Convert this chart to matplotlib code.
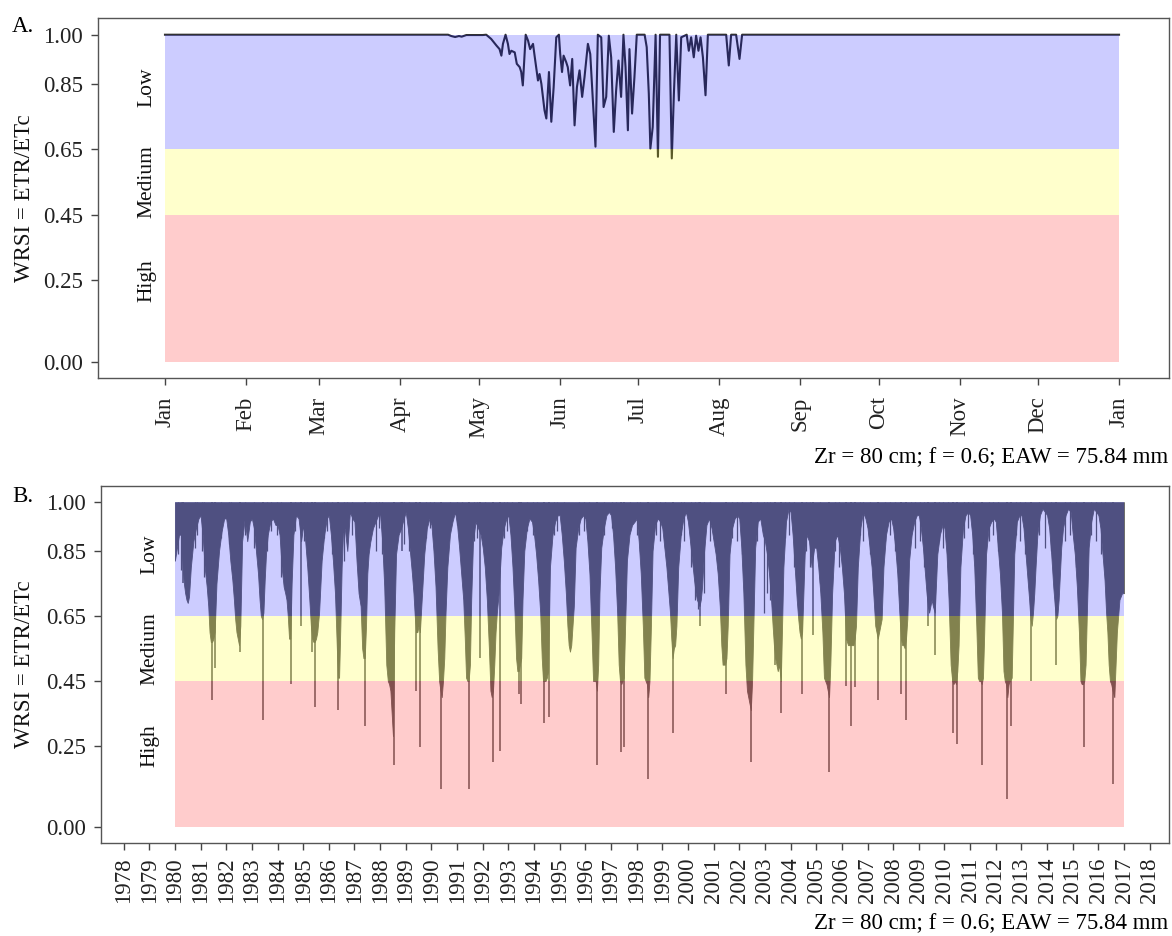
import matplotlib
matplotlib.use("Agg")
import matplotlib.pyplot as plt
import numpy as np

plt.rcParams['font.family'] = ['Liberation Serif', 'DejaVu Serif']

# ---- panel A: one year of daily WRSI (day of year, value) ----
a_doy = [0, 108.3, 109.5, 111.0, 112.5, 113.5, 115.3, 121.6, 122.9,
         124.8, 126.8, 128.0, 128.7, 129.3, 130.3, 131.2, 131.8, 132.5, 133.8,
         134.6, 135.7, 136.3, 136.9, 138.0, 138.9, 139.7, 140.8, 141.4, 142.7,
         143.3, 144.0, 145.2, 145.9, 146.9, 147.8, 148.7, 149.7, 150.7, 151.2,
         151.9, 152.5, 153.5, 154.1, 155.0, 155.8, 156.7, 157.6, 158.6, 159.6,
         160.5, 161.8, 162.7, 163.7, 164.7, 165.6, 166.9, 167.8, 168.8, 169.8,
         170.7, 171.7, 172.6, 173.5, 174.5, 175.4, 176.2, 177.1, 177.7, 178.7,
         179.6, 180.5, 183.5, 184.3, 185.1, 185.7, 186.6, 187.7, 188.6, 189.4,
         193.0, 193.9, 194.7, 195.6, 196.6, 197.5, 199.6, 200.4, 201.3, 202.3,
         203.2, 204.1, 204.9, 205.8, 206.8, 207.7, 214.7, 215.7, 216.6, 218.5,
         219.8, 220.8, 365]
a_wrsi = [1.0, 1.0, 0.996, 0.993, 0.996, 0.994, 0.999, 0.999, 1.0,
          0.987, 0.967, 0.956, 0.936, 0.972, 1.0, 0.972, 0.941, 0.951, 0.946,
          0.911, 0.901, 0.886, 0.845, 1.0, 0.982, 0.956, 0.972, 0.936, 0.860,
          0.880, 0.850, 0.769, 0.744, 0.886, 0.734, 0.840, 0.992, 1.0, 0.941,
          0.886, 0.936, 0.916, 0.901, 0.845, 0.926, 0.723, 0.840, 0.891, 0.810,
          0.870, 0.972, 0.941, 0.799, 0.658, 1.0, 0.992, 0.779, 0.810, 0.997,
          0.931, 0.703, 0.830, 0.921, 0.810, 1.0, 0.901, 0.708, 0.956, 0.759,
          0.870, 1.0, 1.0, 0.962, 0.820, 0.652, 0.718, 1.0, 0.627, 1.0,
          1.0, 0.622, 0.820, 1.0, 0.799, 0.992, 1.0, 0.951, 0.992, 0.931,
          0.997, 0.951, 0.992, 0.931, 0.815, 1.0, 1.0, 0.906, 1.0, 1.0,
          0.926, 1.0, 1.0]

month_names = ['Jan', 'Feb', 'Mar', 'Apr', 'May', 'Jun', 'Jul', 'Aug',
               'Sep', 'Oct', 'Nov', 'Dec', 'Jan']
month_start = [0, 31, 59, 90, 120, 151, 181, 212, 243, 273, 304, 334, 365]

# ---- panel B: 1980-2016, lowest WRSI read at fixed fractions of each year ----
b_years = list(range(1980, 2017))
b_frac = [0.00, 0.08, 0.16, 0.24, 0.30, 0.35, 0.40, 0.45, 0.50, 0.55, 0.62, 0.72, 0.82, 0.92]
b_rows = [
    [0.82, 0.86, 0.90, 0.90, 0.80, 0.75, 0.72, 0.70, 0.69, 0.71, 0.80, 0.88, 0.92, 0.95],  # 1980
    [0.96, 0.90, 0.80, 0.74, 0.68, 0.60, 0.57, 0.57, 0.58, 0.60, 0.75, 0.85, 0.91, 0.95],
    [0.95, 0.90, 0.82, 0.76, 0.70, 0.64, 0.60, 0.58, 0.56, 0.62, 0.88, 0.95, 0.88, 0.94],
    [0.95, 0.92, 0.85, 0.78, 0.70, 0.65, 0.64, 0.66, 0.76, 0.84, 0.90, 0.94, 0.95, 0.93],
    [0.93, 0.90, 0.80, 0.74, 0.72, 0.70, 0.65, 0.58, 0.58, 0.75, 0.90, 0.96, 0.95, 0.88],
    [0.93, 0.88, 0.80, 0.70, 0.62, 0.58, 0.57, 0.57, 0.58, 0.60, 0.66, 0.82, 0.90, 0.95],  # 1985
    [0.96, 0.90, 0.82, 0.72, 0.58, 0.46, 0.46, 0.62, 0.80, 0.90, 0.92, 0.85, 0.97, 0.95],
    [0.94, 0.82, 0.72, 0.68, 0.55, 0.52, 0.52, 0.62, 0.78, 0.84, 0.88, 0.92, 0.94, 0.96],
    [0.96, 0.88, 0.74, 0.50, 0.45, 0.44, 0.42, 0.35, 0.28, 0.60, 0.84, 0.90, 0.92, 0.95],
    [0.97, 0.92, 0.85, 0.78, 0.72, 0.65, 0.60, 0.60, 0.62, 0.60, 0.70, 0.84, 0.92, 0.95],
    [0.93, 0.85, 0.74, 0.55, 0.45, 0.42, 0.40, 0.45, 0.52, 0.66, 0.80, 0.90, 0.94, 0.97],  # 1990
    [0.93, 0.86, 0.78, 0.70, 0.58, 0.46, 0.45, 0.45, 0.50, 0.70, 0.88, 0.94, 0.92, 0.90],
    [0.86, 0.80, 0.70, 0.55, 0.42, 0.40, 0.42, 0.50, 0.60, 0.66, 0.72, 0.86, 0.92, 0.95],
    [0.96, 0.90, 0.80, 0.66, 0.52, 0.48, 0.48, 0.50, 0.52, 0.70, 0.85, 0.92, 0.95, 0.94],
    [0.90, 0.84, 0.76, 0.66, 0.52, 0.45, 0.45, 0.45, 0.46, 0.48, 0.80, 0.90, 0.94, 0.96],
    [0.96, 0.90, 0.82, 0.72, 0.62, 0.56, 0.54, 0.56, 0.62, 0.68, 0.86, 0.92, 0.95, 0.96],  # 1995
    [0.95, 0.88, 0.78, 0.60, 0.45, 0.45, 0.45, 0.42, 0.50, 0.72, 0.86, 0.92, 0.96, 0.97],
    [0.96, 0.90, 0.80, 0.66, 0.50, 0.45, 0.44, 0.45, 0.46, 0.62, 0.82, 0.90, 0.93, 0.94],
    [0.95, 0.88, 0.78, 0.62, 0.46, 0.45, 0.44, 0.40, 0.45, 0.60, 0.85, 0.93, 0.95, 0.94],
    [0.92, 0.86, 0.80, 0.72, 0.66, 0.58, 0.52, 0.55, 0.56, 0.62, 0.80, 0.90, 0.95, 0.97],
    [0.94, 0.88, 0.82, 0.76, 0.72, 0.70, 0.69, 0.68, 0.70, 0.74, 0.84, 0.93, 0.95, 0.92],  # 2000
    [0.88, 0.84, 0.78, 0.68, 0.56, 0.50, 0.50, 0.50, 0.52, 0.62, 0.84, 0.92, 0.95, 0.96],
    [0.95, 0.86, 0.72, 0.50, 0.42, 0.40, 0.38, 0.36, 0.45, 0.62, 0.86, 0.94, 0.95, 0.90],
    [0.88, 0.84, 0.78, 0.70, 0.62, 0.56, 0.52, 0.50, 0.48, 0.50, 0.45, 0.80, 0.94, 0.98],
    [0.97, 0.90, 0.80, 0.70, 0.64, 0.60, 0.58, 0.60, 0.72, 0.84, 0.90, 0.88, 0.80, 0.86],
    [0.86, 0.80, 0.72, 0.60, 0.46, 0.45, 0.44, 0.42, 0.40, 0.50, 0.72, 0.88, 0.90, 0.86],  # 2005
    [0.80, 0.72, 0.58, 0.56, 0.56, 0.56, 0.56, 0.56, 0.58, 0.62, 0.80, 0.92, 0.97, 0.95],
    [0.92, 0.86, 0.80, 0.70, 0.62, 0.60, 0.58, 0.60, 0.62, 0.64, 0.80, 0.90, 0.94, 0.95],
    [0.92, 0.86, 0.78, 0.66, 0.58, 0.56, 0.56, 0.55, 0.58, 0.64, 0.82, 0.90, 0.94, 0.96],
    [0.96, 0.92, 0.86, 0.78, 0.72, 0.68, 0.66, 0.68, 0.70, 0.68, 0.66, 0.84, 0.90, 0.93],
    [0.92, 0.84, 0.70, 0.50, 0.45, 0.44, 0.45, 0.44, 0.48, 0.56, 0.80, 0.92, 0.96, 0.97],  # 2010
    [0.96, 0.90, 0.80, 0.62, 0.46, 0.45, 0.45, 0.44, 0.46, 0.60, 0.84, 0.92, 0.94, 0.95],
    [0.94, 0.86, 0.78, 0.66, 0.48, 0.45, 0.44, 0.40, 0.44, 0.45, 0.46, 0.84, 0.94, 0.96],
    [0.96, 0.92, 0.84, 0.76, 0.70, 0.64, 0.62, 0.66, 0.72, 0.80, 0.90, 0.96, 0.98, 0.97],
    [0.96, 0.92, 0.84, 0.74, 0.68, 0.64, 0.65, 0.70, 0.78, 0.86, 0.92, 0.96, 0.98, 0.97],
    [0.90, 0.84, 0.74, 0.60, 0.45, 0.44, 0.44, 0.45, 0.50, 0.66, 0.86, 0.94, 0.98, 0.97],  # 2015
    [0.96, 0.92, 0.84, 0.76, 0.66, 0.60, 0.50, 0.45, 0.44, 0.42, 0.40, 0.60, 0.70, 0.72],
]
b_end_time = 2017.0
b_end_wrsi = 0.72

# single-day drops below the seasonal envelope (deep ones)
b_spike_time = [1980.30, 1981.43, 1981.57, 1982.52, 1983.44, 1984.53, 1984.90, 1985.35,
                1985.48, 1986.36, 1987.40, 1988.53, 1988.86, 1989.40, 1989.57, 1990.38,
                1991.48, 1991.90, 1992.40, 1992.66, 1993.40, 1993.50, 1994.40, 1994.57,
                1996.45, 1997.40, 1997.50, 1998.45, 1999.40, 2000.47, 2001.48, 2002.44,
                2003.39, 2003.61, 2004.43, 2004.88, 2005.51, 2006.18, 2006.34, 2006.51,
                2007.42, 2008.32, 2008.49, 2009.36, 2009.62, 2010.34, 2010.47, 2011.47,
                2012.45, 2012.61, 2013.39, 2014.36, 2015.43, 2016.57]
b_spike_wrsi = [0.75, 0.39, 0.49, 0.54, 0.33, 0.44, 0.62, 0.54,
                0.37, 0.36, 0.31, 0.19, 0.85, 0.42, 0.245, 0.117,
                0.117, 0.52, 0.20, 0.235, 0.41, 0.38, 0.32, 0.34,
                0.19, 0.23, 0.245, 0.148, 0.29, 0.62, 0.41, 0.20,
                0.50, 0.35, 0.41, 0.59, 0.17, 0.435, 0.31, 0.43,
                0.39, 0.41, 0.33, 0.62, 0.53, 0.29, 0.255, 0.19,
                0.086, 0.31, 0.45, 0.50, 0.245, 0.132]

# shallow drops inside the wet-season (light) stretches
b_minor_time = [1980.12, 1980.22, 1980.77, 1980.87, 1981.06, 1981.13, 1981.78, 1982.10,
                1982.19, 1982.75, 1983.08, 1983.60, 1983.73, 1983.99, 1984.12, 1984.70,
                1985.03, 1985.16, 1985.81, 1985.94, 1986.13, 1986.58, 1986.71, 1986.91,
                1987.62, 1987.82, 1987.95, 1988.08, 1988.79, 1988.92, 1989.12, 1989.77,
                1989.96, 1990.09, 1990.74, 1991.00, 1991.19, 1991.65, 1991.78, 1992.10,
                1992.82, 1992.95, 1993.14, 1993.74, 1993.94, 1994.13, 1994.78, 1994.91,
                1995.17, 1995.74, 1995.94, 1996.13, 1996.73, 1997.05, 1997.18, 1997.75,
                1998.01, 1998.14, 1998.75, 1998.92, 1999.10, 1999.72, 1999.85, 2000.10,
                2000.27, 2000.40, 2000.62, 2000.85, 2001.72, 2001.90, 2002.10, 2002.70,
                2002.95, 2003.10, 2003.20, 2003.80, 2003.95, 2004.15, 2004.62, 2004.75,
                2005.15, 2005.75, 2005.90, 2006.70, 2006.82, 2007.08, 2007.70, 2007.88,
                2008.08, 2008.70, 2008.85, 2009.05, 2009.20, 2009.80, 2009.95, 2010.12,
                2010.75, 2010.90, 2011.10, 2011.72, 2011.90, 2012.10, 2012.80, 2012.95,
                2013.15, 2013.70, 2013.90, 2014.15, 2014.70, 2014.88, 2015.12, 2015.72,
                2015.92, 2016.12, 2016.25]
b_minor_wrsi = [0.84, 0.79, 0.86, 0.90, 0.85, 0.77, 0.89, 0.87,
                0.84, 0.90, 0.86, 0.85, 0.91, 0.90, 0.77, 0.91,
                0.88, 0.84, 0.89, 0.91, 0.84, 0.82, 0.91, 0.90,
                0.88, 0.85, 0.92, 0.84, 0.93, 0.87, 0.85, 0.89,
                0.92, 0.87, 0.92, 0.93, 0.82, 0.88, 0.89, 0.84,
                0.89, 0.91, 0.87, 0.91, 0.90, 0.87, 0.90, 0.91,
                0.87, 0.90, 0.91, 0.85, 0.90, 0.92, 0.88, 0.91,
                0.90, 0.85, 0.90, 0.88, 0.86, 0.90, 0.88, 0.80,
                0.70, 0.67, 0.72, 0.88, 0.89, 0.88, 0.84, 0.88,
                0.66, 0.72, 0.70, 0.89, 0.90, 0.80, 0.85, 0.80,
                0.75, 0.85, 0.80, 0.90, 0.88, 0.84, 0.88, 0.90,
                0.85, 0.90, 0.86, 0.88, 0.80, 0.88, 0.86, 0.80,
                0.89, 0.92, 0.84, 0.88, 0.90, 0.85, 0.90, 0.88,
                0.84, 0.90, 0.86, 0.85, 0.88, 0.90, 0.80, 0.90,
                0.88, 0.84, 0.78]

year_ticks = list(range(1978, 2019))

# risk zones
zone_names = ['High', 'Medium', 'Low']
zone_lo = [0.0, 0.45, 0.65]
zone_hi = [0.45, 0.65, 1.0]
zone_colors = ['red', 'yellow', 'blue']
zone_label_y = [0.25, 0.55, 0.84]
y_ticks = [0.0, 0.25, 0.45, 0.65, 0.85, 1.0]

note = 'Zr = 80 cm; f = 0.6; EAW = 75.84 mm'
FS = 16.5
EDGE = '#555555'
SERIES_B = '#636462'


def style_panel(ax, x0, x1, label_x, xpad):
    # translucent risk bands drawn over the series
    for lo, hi, col in zip(zone_lo, zone_hi, zone_colors):
        ax.fill_between([x0, x1], lo, hi, color=col, alpha=0.2, lw=0, zorder=3)
    for name, y in zip(zone_names, zone_label_y):
        ax.text(label_x, y, name, rotation=90, ha='center', va='center',
                fontsize=15.5, color='#111111', zorder=4)
    ax.set_ylim(-0.05, 1.05)
    ax.set_yticks(y_ticks)
    ax.set_yticklabels(['%.2f' % v for v in y_ticks])
    for s in ax.spines.values():
        s.set_color(EDGE)
        s.set_linewidth(1.0)
    ax.tick_params(axis='both', colors='#444444', labelcolor='#222222',
                   length=5, width=1.0, labelsize=FS)
    ax.tick_params(axis='y', pad=6)
    ax.tick_params(axis='x', pad=xpad)


fig = plt.figure(figsize=(11.72, 9.36), dpi=100)

# panel A
axA = fig.add_axes([0.0839, 0.5958, 0.9135, 0.3846])
axA.plot(a_doy, a_wrsi, color='#323232', lw=1.5, zorder=2)
style_panel(axA, 0, 365, -7, 8)
axA.set_xlim(-25.5, 384.1)
axA.set_xticks(month_start)
axA.set_xticklabels(month_names, rotation=90, va='top', ha='center')

# panel B
b_time = []
b_wrsi = []
for yr, row in zip(b_years, b_rows):
    for f, v in zip(b_frac, row):
        b_time.append(yr + f)
        b_wrsi.append(v)
b_time.append(b_end_time)
b_wrsi.append(b_end_wrsi)

axB = fig.add_axes([0.0862, 0.0990, 0.9112, 0.3818])
axB.fill_between(b_time, b_wrsi, 1.0, color=SERIES_B, lw=0.6, edgecolor=SERIES_B, zorder=2)
axB.vlines(b_spike_time, b_spike_wrsi, 1.0, color=SERIES_B, lw=1.1, zorder=2)
axB.vlines(b_minor_time, b_minor_wrsi, 1.0, color=SERIES_B, lw=0.9, zorder=2)
style_panel(axB, 1980, 2017, 1979.03, 5)
axB.set_xlim(1977.12, 2018.75)
axB.set_xticks(year_ticks)
axB.set_xticklabels([str(y) for y in year_ticks], rotation=90, va='top', ha='center')

# panel tags, axis titles, parameter notes
fig.text(12 / 1172, 1 - 32 / 936, 'A.', fontsize=FS, va='baseline', ha='left')
fig.text(12 / 1172, 1 - 502 / 936, 'B.', fontsize=FS, va='baseline', ha='left')
fig.text(25 / 1172, 1 - 198 / 936, 'WRSI = ETR/ETc', rotation=90, fontsize=FS,
         va='center', ha='center', color='#111111')
fig.text(25 / 1172, 1 - 664 / 936, 'WRSI = ETR/ETc', rotation=90, fontsize=FS,
         va='center', ha='center', color='#111111')
fig.text(1168 / 1172, 1 - 463 / 936, note, fontsize=FS, va='baseline', ha='right')
fig.text(1168 / 1172, 1 - 929 / 936, note, fontsize=FS, va='baseline', ha='right')

fig.savefig('out.png', dpi=100)
